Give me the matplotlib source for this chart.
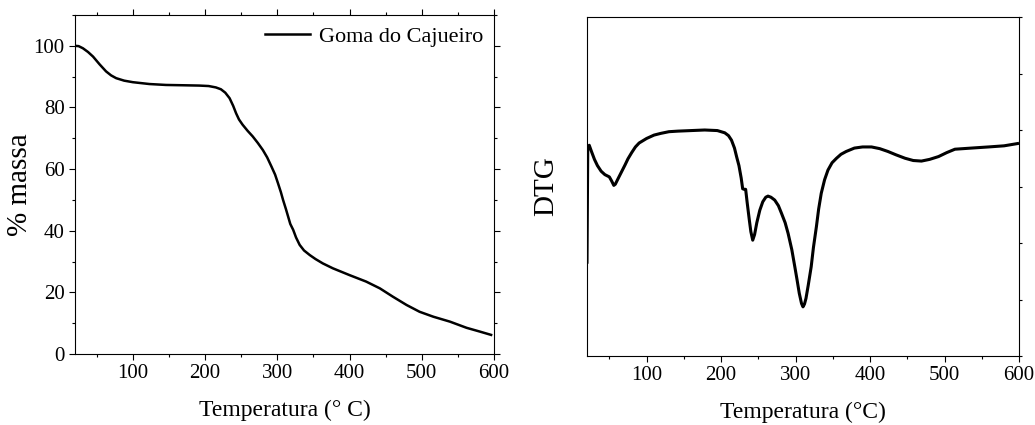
import matplotlib.pyplot as plt
from matplotlib.ticker import MultipleLocator

# TGA - Goma do Cajueiro
temp_tga = [20, 25, 31, 38, 45, 54, 63, 70, 77, 88, 100, 123, 146, 170, 192,
            205, 215, 222, 228, 234, 239, 243, 247, 252, 259, 266, 273, 280,
            286, 292, 297, 301, 305, 308, 312, 315, 318, 322, 326, 331, 337,
            345, 353, 363, 377, 400, 423, 442, 460, 479, 497, 516, 539, 562,
            580, 596]
massa = [100.0, 99.9, 99.2, 98.0, 96.5, 94.0, 91.7, 90.4, 89.5, 88.7, 88.2,
         87.6, 87.3, 87.2, 87.1, 86.95, 86.5, 85.9, 84.8, 83.0, 80.5, 78.1,
         76.1, 74.4, 72.4, 70.6, 68.5, 66.2, 63.8, 60.8, 58.2, 55.4, 52.5,
         50.0, 47.0, 44.6, 42.2, 40.3, 37.8, 35.4, 33.6, 32.1, 30.8, 29.4,
         27.8, 25.6, 23.5, 21.3, 18.6, 15.9, 13.7, 12.1, 10.5, 8.5, 7.3, 6.2]

# DTG (unidades arbitrárias)
temp_dtg = [20, 21, 23, 26, 30, 34, 39, 44, 47, 50, 53, 56, 58, 61, 66, 71,
            75, 80, 85, 90, 100, 110, 119, 130, 142, 160, 178, 195, 205, 210,
            214, 218, 221, 224, 227, 229, 231, 233, 235, 238, 240, 242.5, 245,
            248, 252, 256, 260, 263, 267, 272, 277, 281, 286, 290, 295, 299,
            302, 305, 308, 310, 312, 314, 317, 321, 324, 328, 331, 334.5, 339,
            343.5, 349, 355, 361, 368, 379, 390, 402, 413, 424, 435, 447, 458,
            469, 480, 492, 503, 514, 536, 559, 580, 598]
dtg = [1.66, 3.65, 3.73, 3.62, 3.48, 3.37, 3.27, 3.21, 3.19, 3.17, 3.10,
       3.02, 3.04, 3.12, 3.25, 3.38, 3.49, 3.60, 3.70, 3.77, 3.85, 3.91,
       3.94, 3.97, 3.98, 3.99, 4.00, 3.99, 3.95, 3.90, 3.82, 3.68, 3.52,
       3.37, 3.15, 2.96, 2.95, 2.95, 2.72, 2.40, 2.20, 2.05, 2.15, 2.36,
       2.58, 2.73, 2.81, 2.83, 2.81, 2.76, 2.66, 2.53, 2.36, 2.17, 1.88,
       1.58, 1.35, 1.11, 0.93, 0.87, 0.92, 1.02, 1.25, 1.58, 1.92, 2.29,
       2.60, 2.88, 3.12, 3.29, 3.42, 3.50, 3.57, 3.62, 3.68, 3.70, 3.70,
       3.67, 3.62, 3.56, 3.50, 3.46, 3.45, 3.48, 3.53, 3.60, 3.66, 3.68,
       3.70, 3.72, 3.76]

plt.rcParams['font.family'] = 'Liberation Serif'
plt.rcParams['xtick.direction'] = 'out'
plt.rcParams['ytick.direction'] = 'out'

fig = plt.figure(figsize=(10.35, 4.25), dpi=100)
ax1 = fig.add_axes([75 / 1035, 71 / 425, 419 / 1035, 339 / 425])
ax2 = fig.add_axes([587 / 1035, 69 / 425, 432 / 1035, 339 / 425])

ax1.plot(temp_tga, massa, color='black', lw=1.8, label='Goma do Cajueiro')
ax1.set_xlim(20, 600)
ax1.set_ylim(0, 110)
ax1.xaxis.set_major_locator(MultipleLocator(100))
ax1.xaxis.set_minor_locator(MultipleLocator(50))
ax1.yaxis.set_major_locator(MultipleLocator(20))
ax1.yaxis.set_minor_locator(MultipleLocator(10))
ax1.tick_params(which='both', top=True, right=True, labelsize=15, width=0.8)
ax1.tick_params(which='major', length=4)
ax1.tick_params(which='minor', length=2.5)
ax1.set_xlabel('Temperatura (° C)', fontsize=17, labelpad=12)
ax1.set_ylabel('% massa', fontsize=21, labelpad=0)
ax1.legend(loc='upper right', frameon=False, fontsize=16, handlelength=2.0,
           handletextpad=0.4, borderaxespad=0.1)

ax2.plot(temp_dtg, dtg, color='black', lw=2.2)
ax2.set_xlim(20, 600)
ax2.set_ylim(0, 6)
ax2.xaxis.set_major_locator(MultipleLocator(100))
ax2.xaxis.set_minor_locator(MultipleLocator(50))
ax2.yaxis.set_major_locator(MultipleLocator(1))
ax2.tick_params(axis='x', which='both', labelsize=15, width=0.8)
ax2.tick_params(axis='x', which='major', length=4)
ax2.tick_params(axis='x', which='minor', length=2.5)
ax2.tick_params(axis='y', left=False, labelleft=False, right=True,
                length=2.5, width=0.8)
ax2.set_xlabel('Temperatura (°C)', fontsize=17, labelpad=12)
ax2.set_ylabel('DTG', fontsize=21, labelpad=20)

fig.savefig('out.png', dpi=100)
